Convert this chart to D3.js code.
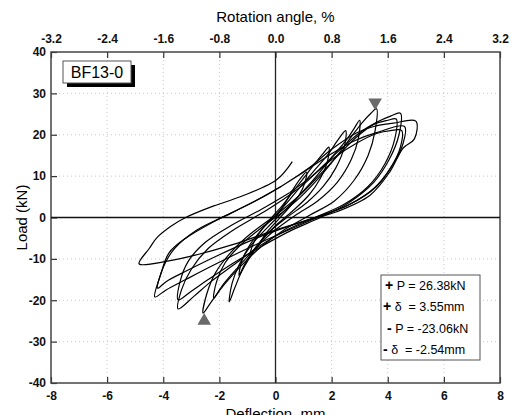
<!DOCTYPE html>
<html>
<head>
<meta charset="utf-8">
<script src="https://cdn.jsdelivr.net/npm/d3@7"></script>
<style>
  body { margin: 0; background: #fff; }
  text { font-family: "Liberation Sans", Arial, sans-serif; }
</style>
</head>
<body>
<div id="chart"></div>
<script>
/* Hysteresis loops, specimen BF13-0 */

// axis ticks
const xTicks = [-8, -6, -4, -2, 0, 2, 4, 6, 8];
const yTicks = [-40, -30, -20, -10, 0, 10, 20, 30, 40];
const rotTicks = [-3.2, -2.4, -1.6, -0.8, 0.0, 0.8, 1.6, 2.4, 3.2];

// load-deflection cycles [mm, kN]
const c1 = [[0,0],[0.3,3],[0.6,6.5],[0.9,9.5],[1.1,11],[1.05,8.5],[0.85,5.5],[0.5,2.5],[0.1,-0.5],[-0.3,-3.5],[-0.6,-6.5],[-0.9,-9],[-0.8,-6.5],[-0.55,-3.5],[-0.2,-0.5],[0.2,2.5]];
const c2 = [[0.2,2.5],[0.6,6],[1.0,9.5],[1.4,13],[1.7,15.5],[1.9,17],[1.85,13.5],[1.6,9.5],[1.2,5.5],[0.6,1.5],[0,-2],[-0.5,-5.5],[-0.9,-9],[-1.15,-12],[-1.3,-14],[-1.2,-10.5],[-0.95,-7],[-0.5,-3],[0,0.5],[0.4,3.5]];
const c3 = [[0.4,3.5],[0.9,7.5],[1.4,11.5],[1.9,15.5],[2.2,18.5],[2.5,21],[2.45,17],[2.15,12],[1.7,7.5],[1.1,3.5],[0.4,0],[-0.3,-4],[-0.8,-8.5],[-1.2,-13],[-1.45,-17],[-1.65,-20.4],[-1.55,-16],[-1.3,-11.5],[-0.9,-7],[-0.3,-2.5],[0.3,1.5]];
const c4 = [[0.3,1.5],[0.8,5],[1.4,9.5],[2.0,14.5],[2.5,18.5],[2.8,21.5],[3.0,23.5],[2.95,19],[2.7,14],[2.2,8.5],[1.5,4],[0.7,0.5],[-0.1,-3.5],[-0.8,-8],[-1.4,-12.5],[-1.9,-16.5],[-2.2,-19.5],[-2.1,-15.5],[-1.8,-11],[-1.3,-7],[-0.6,-3],[0.2,1]];
const c5 = [[0.2,1],[0.9,5],[1.6,10],[2.2,15],[2.7,19.5],[3.1,23],[3.4,25.2],[3.6,26.3],[3.55,21],[3.3,15],[2.8,9],[2.1,4],[1.2,0.5],[0.3,-3],[-0.5,-7],[-1.2,-11.5],[-1.8,-16],[-2.3,-20.5],[-2.58,-23.1],[-2.45,-18.5],[-2.15,-13.5],[-1.6,-8.5],[-0.9,-4],[0,0.5]];
const c6 = [[0,0.5],[0.8,5],[1.6,10.5],[2.3,15.5],[2.9,19.5],[3.5,22.5],[4.0,23.5],[4.3,23.8],[4.25,19],[3.9,13],[3.3,7.5],[2.4,3],[1.4,0],[0.4,-3],[-0.6,-7],[-1.5,-11.5],[-2.3,-15.5],[-2.9,-19],[-3.47,-22.1],[-3.35,-17.5],[-3.0,-12.5],[-2.4,-7.5],[-1.5,-3],[-0.5,1],[0.3,4.5]];
const c7 = [[0.3,4.5],[1.0,8],[1.7,12.5],[2.4,17],[3.0,20.5],[3.6,23],[4.1,24.5],[4.45,25.2],[4.4,20],[4.05,14],[3.5,8.5],[2.6,3.5],[1.6,0],[0.6,-3],[-0.5,-7],[-1.5,-11],[-2.4,-15],[-3.0,-17.8],[-3.47,-19.9],[-3.4,-15.5],[-3.1,-10.5],[-2.5,-6],[-1.6,-2],[-0.5,2],[0.5,6]];
const c8 = [[0.5,6],[1.3,10],[2.1,14.5],[2.9,18],[3.6,20.3],[4.1,21],[4.5,21],[4.45,17],[4.1,12],[3.5,7],[2.6,3],[1.5,0],[0.3,-3.5],[-1,-7.5],[-2.2,-11.5],[-3.2,-15],[-3.9,-17.5],[-4.3,-19.2],[-4.1,-14],[-3.8,-8.6],[-3.2,-5],[-2.2,-1],[-1,3],[0.2,7.5]];
const c9 = [[0.2,7.5],[1.2,12],[2.0,16.5],[2.9,20.5],[3.5,22],[4.2,22.8],[5.0,23.3],[4.95,19],[4.55,16.8],[4.08,11.1],[3.37,5.4],[2.18,1.4],[0.98,-1.0],[-0.5,-4.5],[-2,-9],[-3.2,-13],[-3.9,-15.5],[-4.2,-17.1],[-4.0,-12],[-3.6,-7.5],[-2.8,-3],[-1.6,1],[-0.3,5.5],[0.9,10.5]];
const c10 = [[0.9,10.5],[1.9,15],[2.8,18.5],[3.6,20.5],[4.6,22],[4.55,18],[4.2,13],[3.6,7.5],[2.6,3],[1.4,0],[0,-3],[-1.5,-6.5],[-2.8,-9],[-3.8,-10.5],[-4.86,-11.2],[-4.5,-7.5],[-4.2,-4.7],[-3.7,-2],[-3.2,0],[-2.2,2.8],[-1.26,5],[0.04,9.1],[0.6,13.5]];

// peak values
const legendSigns = ["+", "+", "-", "-"];
const legendTexts = [" P = 26.38kN", " \u03b4  = 3.55mm", " P = -23.06kN", " \u03b4  = -2.54mm"];
const peakX = [3.55, -2.54];
const peakY = [26.38, -23.06];
const specimen = "BF13-0";

const width = 511, height = 415,
      margin = ({ top: 52, right: 11, bottom: 32, left: 51 });

let svg = d3.select("#chart")
    .append("svg")
    .attr("width", width)
    .attr("height", height);

let x = d3.scaleLinear()
    .domain([-8, 8])
    .range([margin.left, width - margin.right]);

let y = d3.scaleLinear()
    .domain([-40, 40])
    .range([height - margin.bottom, margin.top]);

let xr = d3.scaleLinear()
    .domain([-3.2, 3.2])
    .range([margin.left, width - margin.right]);

// hyphen instead of unicode minus, like the original
const fmt = f => d => d3.format(f)(d).replace("\u2212", "-");

// dotted grid
svg.append("g")
    .selectAll("line")
    .data(xTicks.slice(1, -1))
    .join("line")
    .attr("x1", d => x(d)).attr("x2", d => x(d))
    .attr("y1", y(40)).attr("y2", y(-40))
    .attr("stroke", "#c8c8c8")
    .attr("stroke-dasharray", "1,3");

svg.append("g")
    .selectAll("line")
    .data(yTicks.slice(1, -1))
    .join("line")
    .attr("y1", d => y(d)).attr("y2", d => y(d))
    .attr("x1", x(-8)).attr("x2", x(8))
    .attr("stroke", "#c8c8c8")
    .attr("stroke-dasharray", "1,3");

// axes with inward ticks
function styleAxis(g) {
    g.select(".domain").remove();
    g.selectAll(".tick line").attr("stroke", "#333").attr("stroke-width", 1.2);
    g.selectAll(".tick text")
        .attr("font-size", 12)
        .attr("font-weight", "bold")
        .attr("font-family", "'Liberation Sans', Arial, sans-serif")
        .attr("fill", "#111");
}

svg.append("g")
    .attr("transform", `translate(0,${y(-40)})`)
    .call(d3.axisBottom(x).tickValues(xTicks).tickSize(-6).tickPadding(8).tickFormat(fmt("d")))
    .call(styleAxis);

svg.append("g")
    .attr("transform", `translate(0,${y(40)})`)
    .call(d3.axisTop(xr).tickValues(rotTicks).tickSize(-6).tickPadding(9).tickFormat(fmt(".1f")))
    .call(styleAxis);

svg.append("g")
    .attr("transform", `translate(${x(-8)},0)`)
    .call(d3.axisLeft(y).tickValues(yTicks).tickSize(-6).tickPadding(5).tickFormat(fmt("d")))
    .call(styleAxis);

// frame
svg.append("rect")
    .attr("x", x(-8)).attr("y", y(40))
    .attr("width", x(8) - x(-8)).attr("height", y(-40) - y(40))
    .attr("fill", "none")
    .attr("stroke", "#444")
    .attr("stroke-width", 1.5);

// zero lines
svg.append("line")
    .attr("x1", x(0)).attr("x2", x(0)).attr("y1", y(40)).attr("y2", y(-40))
    .attr("stroke", "#222").attr("stroke-width", 1.3);
svg.append("line")
    .attr("x1", x(-8)).attr("x2", x(8)).attr("y1", y(0)).attr("y2", y(0))
    .attr("stroke", "#111").attr("stroke-width", 1.3);

// hysteresis curves
let line = d3.line()
    .x(d => x(d[0]))
    .y(d => y(d[1]))
    .curve(d3.curveCatmullRom.alpha(0.5));

svg.append("g")
    .selectAll("path")
    .data([c1, c2, c3, c4, c5, c6, c7, c8, c9, c10])
    .join("path")
    .attr("d", line)
    .attr("fill", "none")
    .attr("stroke", "#000")
    .attr("stroke-width", 1.2);

// peak markers
svg.append("g")
    .selectAll("path")
    .data(peakX.map((d, i) => [d, peakY[i]]))
    .join("path")
    .attr("d", d3.symbol().type(d3.symbolTriangle).size(80))
    .attr("transform", d => d[1] > 0
        ? `translate(${x(d[0])},${y(d[1]) - 6}) rotate(180)`
        : `translate(${x(d[0])},${y(d[1]) + 8})`)
    .attr("fill", "#6a6a6a");

// specimen label with shadow
svg.append("rect")
    .attr("x", 67).attr("y", 65).attr("width", 68).attr("height", 22)
    .attr("fill", "#000");
svg.append("rect")
    .attr("x", 63).attr("y", 61).attr("width", 68).attr("height", 22)
    .attr("fill", "#fff").attr("stroke", "#555");
svg.append("text")
    .attr("x", 97).attr("y", 78)
    .attr("text-anchor", "middle")
    .attr("font-size", 16)
    .text(specimen);

// legend box
svg.append("rect")
    .attr("x", 381).attr("y", 275).attr("width", 99).attr("height", 85)
    .attr("fill", "#fff").attr("stroke", "#555");

let legend = svg.append("g")
    .selectAll("text")
    .data(legendTexts)
    .join("text")
    .attr("x", (d, i) => [385, 383, 387, 383][i])
    .attr("y", (d, i) => 290 + i * 21.3)
    .attr("font-size", 12.5)
    .attr("xml:space", "preserve")
    .style("white-space", "pre");

legend.append("tspan")
    .attr("font-weight", "bold")
    .attr("font-size", 14)
    .text((d, i) => legendSigns[i]);

legend.append("tspan")
    .text(d => d);

// axis titles
svg.append("text")
    .attr("x", x(0)).attr("y", 22)
    .attr("text-anchor", "middle")
    .attr("font-size", 15)
    .text("Rotation angle, %");

svg.append("text")
    .attr("x", x(0)).attr("y", 419)
    .attr("text-anchor", "middle")
    .attr("font-size", 15)
    .text("Deflection, mm");

svg.append("text")
    .attr("transform", `translate(27,${y(0)}) rotate(-90)`)
    .attr("text-anchor", "middle")
    .attr("font-size", 15)
    .text("Load (kN)");
</script>
</body>
</html>
